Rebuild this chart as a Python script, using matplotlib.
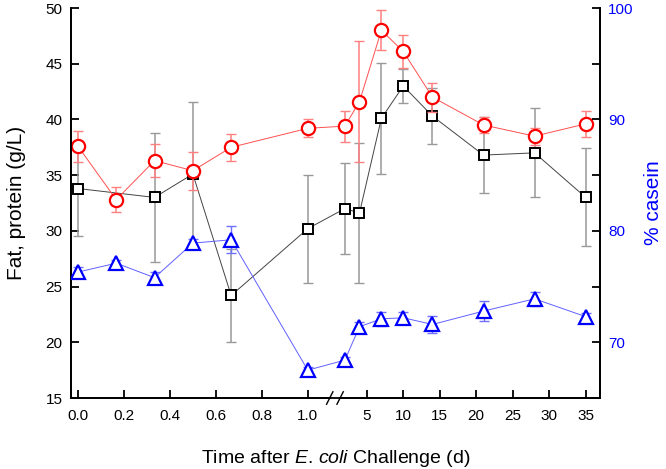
import numpy as np
import matplotlib
matplotlib.use("Agg")
import matplotlib.pyplot as plt
from matplotlib.ticker import MultipleLocator

plt.rcParams['font.family'] = ['Liberation Sans', 'DejaVu Sans']
plt.rcParams['mathtext.fontset'] = 'custom'
plt.rcParams['mathtext.rm'] = 'Liberation Sans'
plt.rcParams['mathtext.it'] = 'Liberation Sans:italic'

# sampling times (days)
t_all = [0, 1/6, 1/3, 0.5, 2/3, 1.0, 2, 4, 7, 10, 14, 21, 28, 35]
t_prot = [0, 1/3, 0.5, 2/3, 1.0, 2, 4, 7, 10, 14, 21, 28, 35]

# red circles (g/L)
fat = [37.6, 32.8, 36.3, 35.4, 37.5, 39.2, 39.4, 41.6, 48.0, 46.1, 42.0, 39.5, 38.5, 39.6]
fat_err = [1.4, 1.1, 1.5, 1.7, 1.2, 0.8, 1.4, 5.4, 1.8, 1.5, 1.3, 0.75, 0.75, 1.15]

# black squares (g/L)
protein = [33.8, 33.0, 35.1, 24.2, 30.2, 32.0, 31.6, 40.1, 43.0, 40.3, 36.8, 37.0, 33.0]
protein_err = [4.3, 5.8, 6.5, 4.2, 4.85, 4.1, 6.3, 5.0, 1.5, 2.5, 3.4, 4.0, 4.4]

# blue triangles (% casein, right axis)
casein = [76.3, 77.1, 75.8, 78.9, 79.2, 67.5, 68.4, 71.4, 72.1, 72.2, 71.6, 72.8, 73.9, 72.3]
casein_err = [0.5, 0.3, 0.5, 0.4, 1.2, 0.3, 0.3, 0.4, 0.6, 0.5, 0.75, 0.9, 0.6, 0.3]

xticks = [0, 0.2, 0.4, 0.6, 0.8, 1.0, 5, 10, 15, 20, 25, 30, 35]
xticklabels = ['0.0', '0.2', '0.4', '0.6', '0.8', '1.0', '5', '10', '15', '20', '25', '30', '35']


# broken x axis: 0-1.1 stretched, small gap, then days on a compressed scale
def fwd(x):
    x = np.asarray(x, dtype=float)
    return np.where(x <= 1.1, x,
                    np.where(x <= 1.2, 1.1 + (x - 1.1) * 0.359,
                             1.0978 + 0.03174 * x))


def inv(u):
    u = np.asarray(u, dtype=float)
    return np.where(u <= 1.1, u,
                    np.where(u <= 1.1359, 1.1 + (u - 1.1) / 0.359,
                             (u - 1.0978) / 0.03174))


fig = plt.figure(figsize=(6.66, 4.69), dpi=100)
ax = fig.add_axes([71/666, 1 - 398/469, 529/666, 390/469])
ax2 = ax.twinx()

ax.set_xscale('function', functions=(fwd, inv))

ax.errorbar(t_prot, protein, yerr=protein_err, fmt='none', ecolor='#999999',
            elinewidth=1.1, capsize=3.5, capthick=1.0, zorder=2)
ax.plot(t_prot, protein, '-', color='#444444', lw=0.7, zorder=3)
ax.plot(t_prot, protein, 's', ms=7, mfc='white', mec='black', mew=1.4, zorder=4)

ax.errorbar(t_all, fat, yerr=fat_err, fmt='none', ecolor='#ff8080',
            elinewidth=1.1, capsize=3.5, capthick=1.0, zorder=5)
ax.plot(t_all, fat, '-', color='#ff5050', lw=0.7, zorder=6)
ax.plot(t_all, fat, 'o', ms=9.5, mfc='white', mec='#ff0000', mew=1.6, zorder=7)

ax2.errorbar(t_all, casein, yerr=casein_err, fmt='none', ecolor='#7070ff',
             elinewidth=1.0, capsize=3.5, capthick=1.0, zorder=2)
ax2.plot(t_all, casein, '-', color='#6060ff', lw=0.7, zorder=3)
ax2.plot(t_all, casein, '^', ms=9.5, mfc='white', mec='#0000ff', mew=1.6, zorder=4)

ax.set_xlim(-0.03, 36.96)
ax.set_ylim(15, 50)
ax2.set_ylim(65, 100)

ax.set_xticks(xticks)
ax.set_xticklabels(xticklabels)
ax.xaxis.set_minor_locator(plt.NullLocator())
ax.yaxis.set_major_locator(MultipleLocator(5))
ax2.yaxis.set_major_locator(MultipleLocator(10))
ax2.yaxis.set_minor_locator(MultipleLocator(5))

for a in (ax, ax2):
    a.spines['top'].set_visible(False)
    for s in ('left', 'right', 'bottom'):
        a.spines[s].set_linewidth(1.3)
ax.tick_params(axis='both', which='major', direction='in', length=6, width=1.3,
               labelsize=11)
ax.tick_params(axis='y', pad=6)
ax.tick_params(axis='x', pad=8)
ax2.tick_params(axis='y', which='both', direction='in', length=6, width=1.3,
                labelsize=11, labelcolor='#0000ff', pad=6)

ax.set_ylabel('Fat, protein (g/L)', fontsize=15, labelpad=14)
ax2.set_ylabel('% casein', fontsize=15, color='#0000ff', labelpad=7)
ax.set_xlabel(r'Time after $\it{E}$. $\it{coli}$ Challenge (d)', fontsize=14, labelpad=18)

# axis break marks
u_lo, u_hi = fwd(-0.03), fwd(36.96)
b0 = (fwd(1.1) - u_lo) / (u_hi - u_lo)
b1 = (fwd(1.2) - u_lo) / (u_hi - u_lo)
ax.plot([b0, b1], [0, 0], transform=ax.transAxes, color='white', lw=3,
        clip_on=False, zorder=10, solid_capstyle='butt')
dx, dy = 0.006, 0.016
for bx in (b0 - 0.002, b1 + 0.002):
    ax.plot([bx - dx, bx + dx], [-dy, dy], transform=ax.transAxes, color='black',
            lw=1.0, clip_on=False, zorder=11)

fig.savefig('out.png', dpi=100)
